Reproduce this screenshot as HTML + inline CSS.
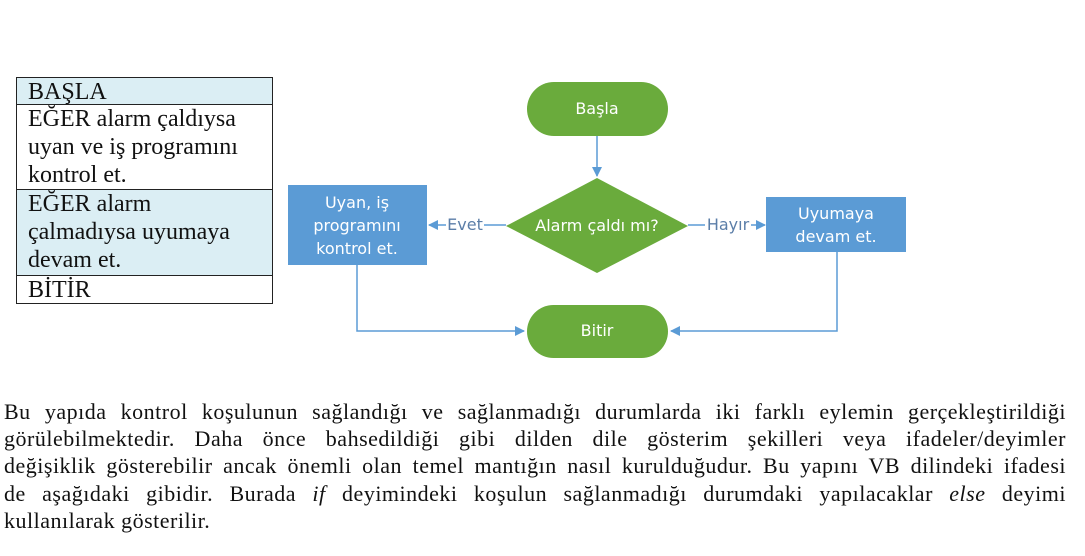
<!DOCTYPE html>
<html><head><meta charset="utf-8"><style>
body{margin:0;width:1085px;height:556px;background:#fff;position:relative;overflow:hidden;font-family:"Liberation Serif",serif}
.tb{position:absolute;left:16px;width:257px;border:1px solid #222;font-size:24px;line-height:28px;padding-left:11px;box-sizing:border-box;color:#111;white-space:nowrap}
.para{position:absolute;left:4px;width:1062px;top:398px;font-size:22px;letter-spacing:0.5px;line-height:27.2px;color:#111}
.para div{text-align:justify;text-align-last:justify;white-space:nowrap;height:27.2px}
.para div.l{text-align-last:left}
svg text{font-family:"DejaVu Sans","Liberation Sans",sans-serif}
</style></head><body>
<div class="tb" style="top:77px;height:28px;background:#dbeef4;line-height:29px">BAŞLA</div>
<div class="tb" style="top:104px;height:86px;background:#fff">EĞER alarm çaldıysa<br>uyan ve iş programını<br>kontrol et.</div>
<div class="tb" style="top:189px;height:87px;background:#dbeef4">EĞER alarm<br>çalmadıysa uyumaya<br>devam et.</div>
<div class="tb" style="top:275px;height:29px;background:#fff;line-height:29px">BİTİR</div>

<svg style="position:absolute;left:0;top:0" width="1085" height="400">
<defs><marker id="a" markerWidth="10" markerHeight="10" refX="9" refY="5" orient="auto" markerUnits="userSpaceOnUse"><path d="M0,0 L10,5 L0,10z" fill="#5b9bd5"/></marker></defs>
<g stroke="#5b9bd5" stroke-width="1.5" fill="none">
<line x1="597" y1="136" x2="597" y2="176" marker-end="url(#a)"/>
<polyline points="357,265 357,331 524,331" marker-end="url(#a)"/>
<polyline points="837,252 837,331 671,331" marker-end="url(#a)"/>
<line x1="506" y1="225" x2="484" y2="225"/>
<line x1="446" y1="225" x2="429" y2="225" marker-end="url(#a)"/>
<line x1="688" y1="225" x2="705" y2="225"/>
<line x1="751" y1="225" x2="765" y2="225" marker-end="url(#a)"/>
</g>
<rect x="527" y="82" width="141" height="54" rx="27" fill="#6aab3c"/>
<text x="597" y="114" fill="#fff" font-size="16" text-anchor="middle">Başla</text>
<polygon points="597,178 688,226 597,273 506,226" fill="#6aab3c"/>
<text x="597" y="231" fill="#fff" font-size="16" text-anchor="middle">Alarm çaldı mı?</text>
<rect x="288" y="185" width="139" height="80" fill="#5b9bd5"/>
<text x="357" y="208" fill="#fff" font-size="16" text-anchor="middle">Uyan, iş</text>
<text x="357" y="231" fill="#fff" font-size="16" text-anchor="middle">programını</text>
<text x="357" y="254" fill="#fff" font-size="16" text-anchor="middle">kontrol et.</text>
<rect x="766" y="197" width="140" height="55" fill="#5b9bd5"/>
<text x="836" y="219" fill="#fff" font-size="16" text-anchor="middle">Uyumaya</text>
<text x="836" y="242" fill="#fff" font-size="16" text-anchor="middle">devam et.</text>
<rect x="527" y="305" width="141" height="53" rx="26.5" fill="#6aab3c"/>
<text x="597" y="336" fill="#fff" font-size="16" text-anchor="middle">Bitir</text>
<text x="465" y="230" fill="#5b7ea8" font-size="16" text-anchor="middle">Evet</text>
<text x="728" y="230" fill="#5b7ea8" font-size="16" text-anchor="middle">Hayır</text>
</svg>

<div class="para">
<div>Bu yapıda kontrol koşulunun sağlandığı ve sağlanmadığı durumlarda iki farklı eylemin gerçekleştirildiği</div>
<div>görülebilmektedir. Daha önce bahsedildiği gibi dilden dile gösterim şekilleri veya ifadeler/deyimler</div>
<div>değişiklik gösterebilir ancak önemli olan temel mantığın nasıl kurulduğudur. Bu yapını VB dilindeki ifadesi</div>
<div>de aşağıdaki gibidir. Burada <i>if</i> deyimindeki koşulun sağlanmadığı durumdaki yapılacaklar <i>else</i> deyimi</div>
<div class="l">kullanılarak gösterilir.</div>
</div>
</body></html>
